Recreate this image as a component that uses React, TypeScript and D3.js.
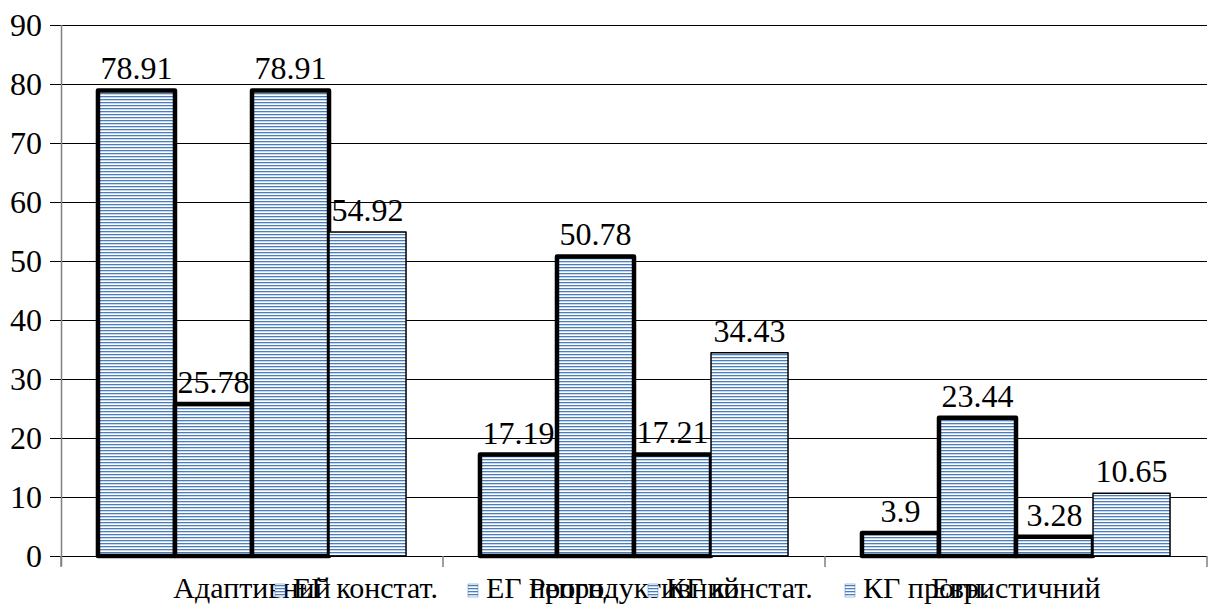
import * as d3 from 'd3';

const categories = ['Адаптивний', 'Репродуктивний', 'Евристичний'];
const seriesNames = ['ЕГ констат.', 'ЕГ прогн.', 'КГ констат.', 'КГ прогн.'];
const egConst = [78.91, 17.19, 3.9];
const egProg = [25.78, 50.78, 23.44];
const kgConst = [78.91, 17.21, 3.28];
const kgProg = [54.92, 34.43, 10.65];
const yTicks = [0, 10, 20, 30, 40, 50, 60, 70, 80, 90];

const series = [egConst, egProg, kgConst, kgProg];
// the first three series have the heavy outline in the original
const strokeW = [4.5, 4.5, 4.5, 1.5];
const legendX = [275, 468, 648, 845];

const W = 1210;
const H = 608;
const left = 61;
const right = 1207;
const top = 25;
const bottom = 556;
const font = 'Liberation Serif';

export default function App() {
  const x = d3.scaleBand<string>().domain(categories).range([left, right]).paddingInner(0).paddingOuter(0);
  const inner = d3
    .scaleBand<number>()
    .domain(d3.range(series.length))
    .range([0, x.bandwidth()])
    .paddingOuter(0.48)
    .paddingInner(0);
  const y = d3.scaleLinear().domain([0, 90]).range([bottom, top]);
  const fmt = (v: number) => String(v);

  return (
    <svg width={W} height={H} style={{ position: 'absolute', left: 0, top: 0, background: '#fff', fontFamily: font }}>
      <defs>
        <pattern id="stripes" width={4} height={3} patternUnits="userSpaceOnUse">
          <rect width={4} height={3} fill="#fff" />
          <rect width={4} height={1} y={0} fill="#4a7ebb" />
          <rect width={4} height={1} y={1} fill="#c9d7ea" />
        </pattern>
      </defs>

      {/* gridlines */}
      {yTicks.map((t) => (
        <line
          key={t}
          x1={left - 11}
          x2={right}
          y1={Math.round(y(t)) + 0.5}
          y2={Math.round(y(t)) + 0.5}
          stroke="#000"
          strokeWidth={1}
        />
      ))}
      {/* y axis */}
      <line x1={left + 0.5} x2={left + 0.5} y1={top} y2={bottom + 10} stroke="#808080" strokeWidth={1.5} />
      {yTicks.map((t) => (
        <text key={'l' + t} x={left - 19} y={y(t) + 11} textAnchor="end" fontSize={32} fill="#000">
          {t}
        </text>
      ))}
      {/* category ticks */}
      {[...categories.map((c) => x(c)!), right].map((v, i) => (
        <line key={'ct' + i} x1={v} x2={v} y1={bottom} y2={bottom + 11} stroke="#808080" strokeWidth={1.5} />
      ))}

      {/* bars */}
      {series.map((vals, si) =>
        categories.map((c, ci) => {
          const bx = x(c)! + inner(si)!;
          const by = y(vals[ci]);
          return (
            <rect
              key={si + '-' + ci}
              x={bx}
              y={by}
              width={inner.bandwidth()}
              height={bottom - by}
              fill="url(#stripes)"
              stroke="#000"
              strokeWidth={strokeW[si]}
              strokeLinejoin="round"
            />
          );
        })
      )}

      {/* value labels */}
      {series.map((vals, si) =>
        categories.map((c, ci) => (
          <text
            key={'v' + si + '-' + ci}
            x={x(c)! + inner(si)! + inner.bandwidth() / 2}
            y={y(vals[ci]) - 11}
            textAnchor="middle"
            fontSize={32}
            fill="#000"
          >
            {fmt(vals[ci])}
          </text>
        ))
      )}

      {/* category labels */}
      {categories.map((c) => (
        <text key={'c' + c} x={x(c)! + x.bandwidth() / 2} y={598} textAnchor="middle" fontSize={30} fill="#000">
          {c}
        </text>
      ))}

      {/* legend */}
      {seriesNames.map((n, i) => (
        <g key={'lg' + i}>
          <rect
            x={legendX[i]}
            y={584}
            width={10}
            height={13}
            fill="url(#stripes)"
            stroke="#4a7ebb"
            strokeWidth={0.5}
          />
          <text x={legendX[i] + 18} y={598} fontSize={30} fill="#000">
            {n}
          </text>
        </g>
      ))}
    </svg>
  );
}
